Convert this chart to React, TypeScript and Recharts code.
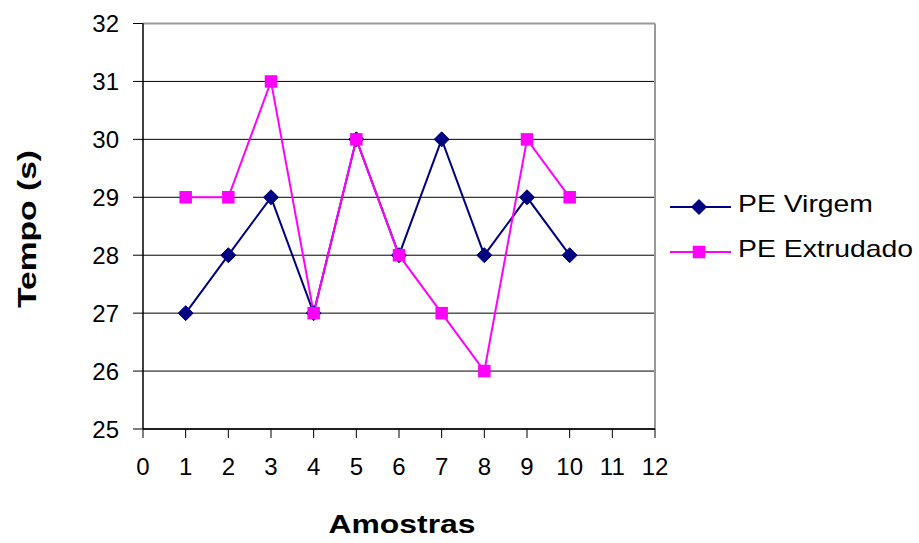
import React from "react";
import {
  LineChart,
  Line,
  XAxis,
  YAxis,
  CartesianGrid,
  ReferenceLine,
  Customized,
} from "recharts";

const amostras = [1, 2, 3, 4, 5, 6, 7, 8, 9, 10];
const peVirgem = [27, 28, 29, 27, 30, 28, 30, 28, 29, 28];
const peExtrudado = [29, 29, 31, 27, 30, 28, 27, 26, 30, 29];
const xTicks = [0, 1, 2, 3, 4, 5, 6, 7, 8, 9, 10, 11, 12];
const yTicks = [25, 26, 27, 28, 29, 30, 31, 32];

const NAVY = "#000080";
const MAGENTA = "#FF00FF";
const FONT = "'Liberation Sans', Arial, sans-serif";

const data = amostras.map((a, i) => ({
  amostra: a,
  virgem: peVirgem[i],
  extrudado: peExtrudado[i],
}));

function Diamond({ cx, cy }: { cx?: number; cy?: number }) {
  if (cx == null || cy == null) return null;
  const r = 7.5;
  return (
    <polygon
      points={`${cx},${cy - r} ${cx + r},${cy} ${cx},${cy + r} ${cx - r},${cy}`}
      fill={NAVY}
      stroke={NAVY}
    />
  );
}

function Square({ cx, cy }: { cx?: number; cy?: number }) {
  if (cx == null || cy == null) return null;
  const s = 12.5;
  return <rect x={cx - s / 2} y={cy - s / 2} width={s} height={s} fill={MAGENTA} />;
}

function Extras() {
  return (
    <g fontFamily={FONT} fill="#000">
      <text
        x={36}
        y={229}
        transform="rotate(-90 36 229)"
        textAnchor="middle"
        fontSize={26}
        fontWeight="bold"
        textLength={158}
        lengthAdjust="spacingAndGlyphs"
      >
        Tempo (s)
      </text>
      <text
        x={402}
        y={533}
        textAnchor="middle"
        fontSize={25}
        fontWeight="bold"
        textLength={147}
        lengthAdjust="spacingAndGlyphs"
      >
        Amostras
      </text>

      {/* legend */}
      <line x1={670} y1={207} x2={731} y2={207} stroke={NAVY} strokeWidth={2} />
      <Diamond cx={699} cy={207} />
      <text x={738} y={211.5} fontSize={24} textLength={135} lengthAdjust="spacingAndGlyphs">
        PE Virgem
      </text>
      <line x1={670} y1={252} x2={731} y2={252} stroke={MAGENTA} strokeWidth={2} />
      <Square cx={699} cy={252} />
      <text x={738} y={257} fontSize={24} textLength={175} lengthAdjust="spacingAndGlyphs">
        PE Extrudado
      </text>
    </g>
  );
}

export default function App() {
  const tickStyle = { fontSize: 24, fill: "#000", fontFamily: FONT };
  return (
    <div style={{ position: "absolute", left: 0, top: 0, background: "#fff" }}>
      <LineChart
        width={919}
        height={543}
        data={data}
        margin={{ top: 23.5, right: 264, left: 83, bottom: 54 }}
      >
        <CartesianGrid vertical={false} stroke="#000" strokeWidth={1} />
        <ReferenceLine y={32} stroke="#999" strokeWidth={2} />
        <ReferenceLine x={12} stroke="#999" strokeWidth={2} />
        <XAxis
          dataKey="amostra"
          type="number"
          domain={[0, 12]}
          ticks={xTicks}
          interval={0}
          height={60}
          tickSize={9}
          tickMargin={20}
          tick={tickStyle}
          stroke="#000"
          axisLine={{ stroke: "#000", strokeWidth: 1.5 }}
        />
        <YAxis
          type="number"
          domain={[25, 32]}
          ticks={yTicks}
          interval={0}
          width={60}
          tickSize={10}
          tickMargin={14}
          tick={tickStyle}
          stroke="#000"
          axisLine={{ stroke: "#000", strokeWidth: 1.5 }}
        />
        <Line
          type="linear"
          dataKey="virgem"
          stroke={NAVY}
          strokeWidth={2}
          dot={<Diamond />}
          isAnimationActive={false}
        />
        <Line
          type="linear"
          dataKey="extrudado"
          stroke={MAGENTA}
          strokeWidth={2}
          dot={<Square />}
          isAnimationActive={false}
        />
        <Customized component={<Extras />} />
      </LineChart>
    </div>
  );
}
